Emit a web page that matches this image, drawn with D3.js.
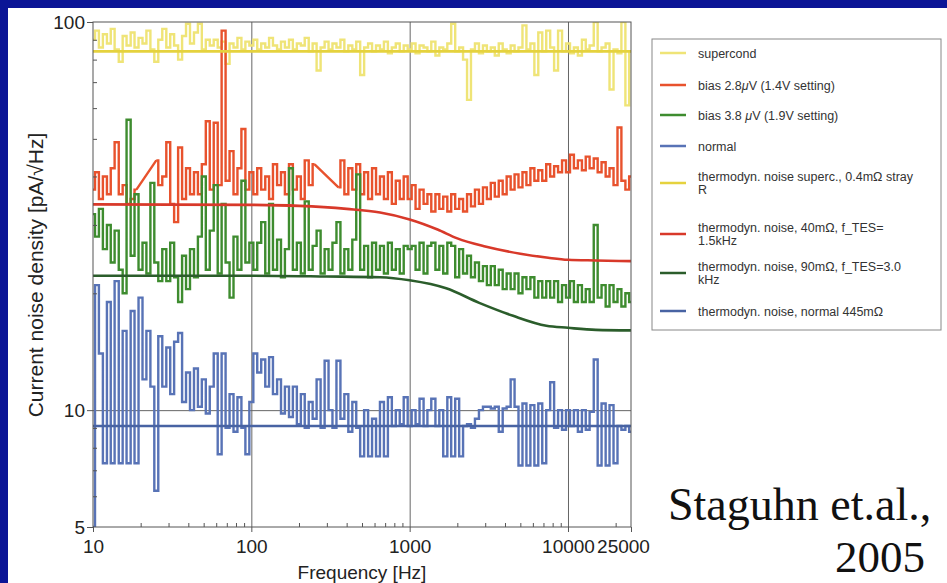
<!DOCTYPE html>
<html>
<head>
<meta charset="utf-8">
<script src="https://cdn.jsdelivr.net/npm/d3@7"></script>
<style>
body { margin: 0; background: #0b1596; }
svg { display: block; }
.axis path, .axis line { stroke: #555; }
.grid path { display: none; }
.grid line { stroke: #666; }
</style>
</head>
<body>
<div id="chart"></div>
<script>

// frequency grid of the measured spectra [Hz]
var freq = [
    10, 10.6, 11.2, 11.9, 12.6, 13.3, 14.1, 15, 15.8, 16.8,
    17.8, 18.8, 20, 21.1, 22.4, 23.7, 25.1, 26.6, 28.2, 29.9,
    31.6, 33.5, 35.5, 37.6, 39.8, 42.2, 44.7, 47.3, 50.1, 53.1,
    56.2, 59.6, 63.1, 66.8, 70.8, 75, 79.4, 84.1, 89.1, 94.4,
    100, 106, 112, 119, 126, 133, 141, 150, 158, 168,
    178, 188, 200, 211, 224, 237, 251, 266, 282, 299,
    316, 335, 355, 376, 398, 422, 447, 473, 501, 531,
    562, 596, 631, 668, 708, 750, 794, 841, 891, 944,
    1000, 1060, 1120, 1190, 1260, 1330, 1410, 1500, 1580, 1680,
    1780, 1880, 2000, 2110, 2240, 2370, 2510, 2660, 2820, 2990,
    3160, 3350, 3550, 3760, 3980, 4220, 4470, 4730, 5010, 5310,
    5620, 5960, 6310, 6680, 7080, 7500, 7940, 8410, 8910, 9440,
    10000, 10600, 11200, 11900, 12600, 13300, 14100, 15000, 15800, 16800,
    17800, 18800, 20000, 21100, 22400, 23700, 25000
];

// measured current noise density [pA/sqrt(Hz)], null = no sample (line joins across)
var supercond = [
    90, 95, 86, 93, 88, 96, 85, 79, 92, 87,
    94, 86, 91, 88, 95, 85, 79, 90, 96, 86,
    93, 87, 80, 92, 99, 88, 94, 99, 85, 90,
    87, 90, 86, 89, 78, 88, 86, 91, 85, 89,
    87, 90, 85, 88, 86, 91, 87, 85, 89, 86,
    90, 85, 88, 87, 91, 84, 88, 75, 86, 89,
    85, 88, 86, 90, 84, 87, 85, 89, 73, 86,
    88, 84, 87, 85, 89, 83, 86, 88, 84, 87,
    85, 88, 83, 87, 86, 84, 89, 82, 86, 85,
    88, 99, 84, 86, 80, 63, 85, 88, 83, 87,
    84, 86, 82, 88, 85, 83, 87, 84, 86, 98,
    85, 88, 73, 94, 84, 95, 86, 75, 95, 84,
    88, 83, 86, 82, 90, 85, 87, 100, 84, 86,
    88, 67, 85, 83, 100, 61, 84
];

var bias28 = [
    37, 41, 35, 40, 36, 42, 49, 36, 38, 34,
    35, 37, null, null, null, null, 44, 38, 40, 49,
    34, 30.5, 47.5, 35, 42, 36, 41, 36, 43, 55.5,
    37, 55, 38, 95, 39, 46.5, 36, 42, 53, 37,
    41, 36, 42, 37, 40, 35, 43, 38, 41, 36,
    43, 37, 40, 35, 44, 38, 43, null, null, null,
    null, null, 37.5, 44, 36, 42, 37, 43, 36, 41,
    35, 42, 36, 40, 35, 41, 34, 39, 35, 40,
    35, 38, 33, 37, 34, 36, 32.5, 36, 33, 35.5,
    32.5, 36, 33, 35, 32.5, 36, 33.5, 37, 34, 37.5,
    35, 38.5, 35.5, 39, 36, 40, 37, 40.5, 37.5, 41,
    38, 42, 39, 41.5, 39, 43, 40, 42.5, 41, 44,
    41, 45.5, 42, 44, 41.5, 45, 42, 44.5, 41, 43.5,
    40, 42, 38, 53.5, 39, 37, 40
];

var bias38 = [
    32, 28, 33, 26, 30, 24, 29, 23, 20, 56,
    25, 36, 23, 27, 22.5, 38.5, 24, 21.5, 26, 21.5,
    27, 22, 19, 25, 20.5, 26, 22, 28, 40, 23,
    29, 38, 22.5, 34, 24, 19.5, 28, 23, 39, 24,
    27, 23, 27, 30.5, 22.5, 34, 23, 27.5, 22, 26,
    42, 23, 27, 22.5, 34.5, 23, 26.5, 29, 22.5, 26,
    23, 27, 30.5, 22.5, 26, 23, 27.5, 40.5, 23, 26.5,
    22, 27, 23, 26.5, 22.5, 27, 23, 26, 22.5, 26.5,
    26, 26.5, 23, 27, 22.5, 26.5, 27, 23, 26.5, 22.5,
    27, 26.5, 22, 26, 22.5, 25, 22, 24, 21.5, 23.5,
    21, 23.5, 21, 23, 20.5, 22.5, 20.5, 22.5, 20, 22,
    20.5, 22, 19.5, 21.5, 19.5, 21.5, 19.5, 21.5, 19, 21,
    19.5, 21.5, 19, 21, 19, 20.5, 19, 30, 19.5, 21,
    18.5, 21, 19, 20.5, 18.5, 20, 19
];

var normal = [
    5, 21, 14, 7.3, 19, 7.3, 21.5, 7.3, 16, 7.3,
    18, 7.3, 19.5, 12, 16, 11.5, 6.2, 15.5, 11.5, 14.5,
    11, 15, 15.8, 10.5, 12.5, 10, 12.8, 10.2, 12, 9.8,
    11.5, 14, 7.7, 14, 9, 11, 8.8, 10.8, 9, 7.7,
    10.5, 14, 12.5, 13.5, 11.5, 13.7, 11, 12, 9.8, 11.5,
    9.6, 11.5, 9.2, 11, 9, 10.5, 9.5, 12, 9, 13.4,
    10, 9, 13.4, 9.5, 11, 8.8, 10.5, 9, 7.6, 10,
    7.6, 9.5, 7.6, 10.5, 7.6, 10.8, 9.1, 10, 9.2, 10.8,
    9.1, 10, 9.2, 10.7, 9.1, 10, 10.7, 9.1, 10, 7.6,
    10.8, 7.6, 10.7, 7.6, 9.1, 9.2, 9, 9.5, 10, 10.2,
    10.2, 10.1, 10.2, 8.8, 10.1, 10.2, 12, 10.2, 7.2, 10.4,
    7.2, 10.3, 7.2, 10.4, 7.3, 10, 11.8, 9, 10, 8.9,
    10, 9.1, 10, 8.8, 10, 8.9, 9.9, 13.5, 7.2, 10.4,
    7.2, 10.3, 7.3, 9.1, 8.9, 9.1, 8.8
];

// thermodynamic noise models
var thSupercondFreq = [10, 100, 1000, 10000, 25000];
var thSupercond = [84, 84, 84, 84, 84];
var th40Freq = [10, 100, 200, 400, 650, 1000, 1500, 2000, 3000, 5000, 7500, 10000, 15000, 25000];
var th40 = [33.9, 33.8, 33.6, 33.0, 32.3, 31.0, 29.2, 27.7, 26.4, 25.3, 24.7, 24.4, 24.3, 24.2];
var th90Freq = [10, 100, 300, 650, 1000, 1700, 2750, 4500, 7300, 10000, 15000, 25000];
var th90 = [22.2, 22.2, 22.1, 22.0, 21.6, 20.6, 18.9, 17.5, 16.5, 16.3, 16.1, 16.05];
var thNormalFreq = [10, 25000];
var thNormal = [9.1, 9.1];

// axes
var xMajor = [10, 100, 1000, 10000, 25000];
var xMinor = [20, 30, 40, 50, 60, 70, 80, 90, 200, 300, 400, 500, 600, 700, 800, 900,
    2000, 3000, 4000, 5000, 6000, 7000, 8000, 9000, 20000];
var xGrid = [100, 1000, 10000];
var yMajor = [5, 10, 100];
var yMinor = [6, 7, 8, 9, 20, 30, 40, 50, 60, 70, 80, 90];
var yGrid = [10];

var legendLabels = [
    ['supercond'],
    ['bias 2.8|μ|V (1.4V setting)'],
    ['bias 3.8 |μ|V (1.9V setting)'],
    ['normal'],
    ['thermodyn. noise superc., 0.4mΩ stray', 'R'],
    ['thermodyn. noise, 40mΩ, f_TES=', '1.5kHz'],
    ['thermodyn. noise, 90mΩ, f_TES=3.0', 'kHz'],
    ['thermodyn. noise, normal 445mΩ']
];

var sans = '"Liberation Sans", Arial, sans-serif';
var serif = '"Liberation Serif", "Times New Roman", serif';

var margin = { top: 22, left: 93, bottom: 56, right: 316 },
    width = 947 - margin.left - margin.right,
    height = 583 - margin.top - margin.bottom;

var root = d3.select('#chart').append('svg')
    .attr('width', 947)
    .attr('height', 583)
    .style('font-family', sans);

// white slide panel
root.append('rect')
    .attr('x', 8).attr('y', 8)
    .attr('width', 939).attr('height', 575)
    .attr('fill', '#fff');

var svg = root.append('g')
    .attr('transform', 'translate(' + margin.left + ', ' + margin.top + ')');

var x = d3.scaleLog().domain([10, 25000]).range([0, width]);
var y = d3.scaleLog().domain([5, 100]).range([height, 0]);

svg.append('defs').append('clipPath').attr('id', 'plotclip')
    .append('rect').attr('width', width).attr('height', height);

// grid
svg.append('g')
    .attr('class', 'grid')
    .call(d3.axisBottom(x).tickValues(xGrid).tickSize(height).tickFormat(''));
svg.append('g')
    .attr('class', 'grid')
    .call(d3.axisLeft(y).tickValues(yGrid).tickSize(-width).tickFormat(''));

var step = d3.line()
    .x(d => x(d.f))
    .y(d => y(d.v))
    .curve(d3.curveStep);

var straight = d3.line()
    .x(d => x(d.f))
    .y(d => y(d.v));

var smooth = d3.line()
    .x(d => x(d.f))
    .y(d => y(d.v))
    .curve(d3.curveMonotoneX);

// split a spectrum into runs of samples, broken where there is no sample
function runs(fs, vs) {
    var out = [], cur = [];
    vs.forEach((v, i) => {
        if (v == null) {
            if (cur.length) out.push(cur);
            cur = [];
        } else {
            cur.push({ f: fs[i], v: v });
        }
    });
    if (cur.length) out.push(cur);
    return out;
}

// stepped trace, with a straight line across the missing samples
function spectrumPath(vs) {
    var r = runs(freq, vs);
    var d = r.map(run => step(run)).join('');
    for (var k = 1; k < r.length; k++) {
        d += straight([r[k - 1][r[k - 1].length - 1], r[k][0]]);
    }
    return d;
}

function pairs(fs, vs) {
    return fs.map((f, i) => ({ f: f, v: vs[i] }));
}

var measured = [
    { values: supercond, color: '#efe477' },
    { values: bias28, color: '#e8522d' },
    { values: bias38, color: '#3e8c2f' },
    { values: normal, color: '#5873b6' }
];

var models = [
    { f: thSupercondFreq, values: thSupercond, color: '#e5d23e' },
    { f: th40Freq, values: th40, color: '#d8392a' },
    { f: th90Freq, values: th90, color: '#2b5d2b' },
    { f: thNormalFreq, values: thNormal, color: '#4863a3' }
];

var plot = svg.append('g').attr('clip-path', 'url(#plotclip)');

plot.selectAll('.meas')
    .data(measured)
    .enter()
    .append('path')
    .attr('class', 'meas')
    .attr('d', d => spectrumPath(d.values))
    .attr('fill', 'none')
    .attr('stroke', d => d.color)
    .attr('stroke-width', 2.4);

plot.selectAll('.model')
    .data(models)
    .enter()
    .append('path')
    .attr('class', 'model')
    .attr('d', d => smooth(pairs(d.f, d.values)))
    .attr('fill', 'none')
    .attr('stroke', d => d.color)
    .attr('stroke-width', 2.6);

// frame
svg.append('rect')
    .attr('width', width).attr('height', height)
    .attr('fill', 'none')
    .attr('stroke', '#555');

// axes
var xAxis = svg.append('g')
    .attr('class', 'axis')
    .attr('transform', 'translate(0,' + height + ')')
    .call(d3.axisBottom(x).tickValues(xMajor).tickSize(5).tickPadding(8).tickFormat(d => d));
xAxis.selectAll('text')
    .attr('font-size', 19)
    .attr('fill', '#222')
    .attr('dx', d => d === 25000 ? -8 : 0);

svg.append('g')
    .attr('class', 'axis')
    .attr('transform', 'translate(0,' + height + ')')
    .call(d3.axisBottom(x).tickValues(xMinor).tickSize(-4).tickFormat(''));

var yAxis = svg.append('g')
    .attr('class', 'axis')
    .call(d3.axisLeft(y).tickValues(yMajor).tickSize(6).tickPadding(2).tickFormat(d => d));
yAxis.selectAll('text')
    .attr('font-size', 19)
    .attr('fill', '#222');

svg.append('g')
    .attr('class', 'axis')
    .call(d3.axisLeft(y).tickValues(yMinor).tickSize(-4).tickFormat(''));

svg.selectAll('.axis .domain').remove();
svg.selectAll('.axis').attr('font-family', null);

// axis titles
svg.append('text')
    .attr('x', width / 2)
    .attr('y', height + 52)
    .attr('text-anchor', 'middle')
    .attr('font-size', 19)
    .attr('fill', '#222')
    .text('Frequency [Hz]');

svg.append('text')
    .attr('transform', 'translate(' + (-margin.left + 43) + ',' + (275 - margin.top) + ') rotate(-90)')
    .attr('text-anchor', 'middle')
    .attr('font-size', 21)
    .attr('fill', '#222')
    .text('Current noise density [pA/√Hz]');

// legend
var colors = measured.map(d => d.color).concat(models.map(d => d.color));
var legendY = [53, 85, 115, 146, 183, 234, 273, 311];

var legend = root.append('g');
legend.append('rect')
    .attr('x', 652).attr('y', 39)
    .attr('width', 289).attr('height', 291)
    .attr('fill', '#fff')
    .attr('stroke', '#888');

var item = legend.selectAll('.item')
    .data(legendLabels)
    .enter()
    .append('g')
    .attr('class', 'item')
    .attr('transform', (d, i) => 'translate(0,' + legendY[i] + ')');

item.append('line')
    .attr('x1', 660).attr('x2', 686)
    .attr('stroke', (d, i) => colors[i])
    .attr('stroke-width', 2.5);

item.each(function (lines) {
    var g = d3.select(this);
    lines.forEach((s, k) => {
        var t = g.append('text')
            .attr('x', 698)
            .attr('y', 4.5 + (k - (lines.length - 1) / 2) * 13.5)
            .attr('font-size', 12.5)
            .attr('fill', '#333');
        s.split('|').forEach((part, j) => {
            t.append('tspan')
                .attr('font-style', j % 2 ? 'italic' : null)
                .text(part);
        });
    });
});

// citation
root.append('text')
    .attr('x', 668)
    .attr('y', 520)
    .style('font-family', serif)
    .attr('font-size', 46)
    .attr('fill', '#111')
    .text('Staguhn et.al.,');

root.append('text')
    .attr('x', 925)
    .attr('y', 572)
    .attr('text-anchor', 'end')
    .style('font-family', serif)
    .attr('font-size', 45)
    .attr('fill', '#111')
    .text('2005');

</script>
</body>
</html>
